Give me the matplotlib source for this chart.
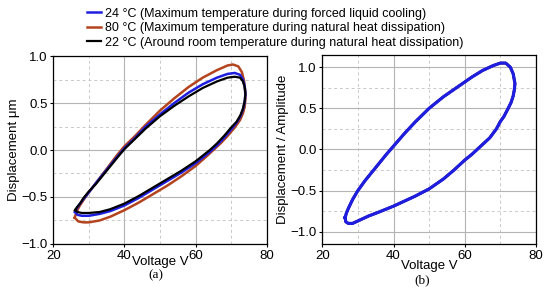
import matplotlib
matplotlib.use("Agg")
import matplotlib.pyplot as plt
from matplotlib.ticker import MultipleLocator

plt.rcParams['font.family'] = ['Liberation Sans', 'DejaVu Sans']

# legend labels and colours
labels = ["24 °C (Maximum temperature during forced liquid cooling)",
          "80 °C (Maximum temperature during natural heat dissipation)",
          "22 °C (Around room temperature during natural heat dissipation)"]
colors = ["#1e1ee0", "#b3441e", "#000000"]

# (a) displacement loops, upper branch (rising) and lower branch (falling)
blue_up_v = [26.1, 26.6, 27.5, 28.5, 30, 32, 35, 38, 40, 43, 46, 50, 54, 58, 62, 66, 69, 71, 72.5, 73.3, 73.8, 74.0]
blue_up_d = [-0.66, -0.62, -0.57, -0.52, -0.45, -0.35, -0.21, -0.07, 0.02, 0.13, 0.25, 0.38, 0.50, 0.61, 0.70, 0.77, 0.81, 0.82, 0.80, 0.75, 0.68, 0.60]
blue_lo_v = [74.0, 73.8, 73.3, 72.6, 71.5, 70, 68, 66, 64, 62, 60, 56, 52, 48, 44, 40, 36, 33, 30, 28, 26.8, 26.1]
blue_lo_d = [0.60, 0.51, 0.43, 0.36, 0.29, 0.22, 0.13, 0.05, -0.02, -0.08, -0.14, -0.24, -0.33, -0.42, -0.51, -0.59, -0.65, -0.68, -0.70, -0.70, -0.69, -0.66]

brown_up_v = [26.0, 26.5, 27.3, 28.5, 30, 32, 35, 38, 40, 43, 46, 50, 54, 58, 62, 66, 69, 70.5, 72, 73.0, 73.6, 73.9, 74.0]
brown_up_d = [-0.72, -0.66, -0.60, -0.53, -0.45, -0.35, -0.20, -0.05, 0.04, 0.15, 0.27, 0.42, 0.55, 0.67, 0.77, 0.85, 0.90, 0.91, 0.89, 0.83, 0.74, 0.64, 0.55]
brown_lo_v = [74.0, 73.8, 73.3, 72.5, 71, 69, 67, 65, 63, 60, 56, 52, 48, 44, 40, 36, 33, 30, 28.5, 27, 26.0]
brown_lo_d = [0.55, 0.46, 0.39, 0.32, 0.24, 0.15, 0.07, 0.0, -0.07, -0.17, -0.28, -0.38, -0.47, -0.56, -0.64, -0.71, -0.75, -0.77, -0.77, -0.76, -0.72]

black_up_v = [26.1, 26.6, 27.5, 28.5, 30, 32, 35, 38, 40, 43, 46, 50, 54, 58, 62, 66, 69, 71, 72.5, 73.3, 73.8, 74.0]
black_up_d = [-0.64, -0.61, -0.57, -0.51, -0.44, -0.36, -0.22, -0.08, 0.01, 0.12, 0.23, 0.36, 0.47, 0.57, 0.66, 0.73, 0.77, 0.78, 0.77, 0.73, 0.67, 0.60]
black_lo_v = [74.0, 73.8, 73.3, 72.6, 71.5, 70, 68, 66, 64, 62, 60, 56, 52, 48, 44, 40, 36, 33, 30, 28, 26.8, 26.1]
black_lo_d = [0.60, 0.52, 0.44, 0.37, 0.30, 0.24, 0.15, 0.07, 0.0, -0.06, -0.12, -0.22, -0.31, -0.40, -0.49, -0.57, -0.63, -0.66, -0.67, -0.67, -0.66, -0.64]

# (b) normalised loop (all three nearly coincide)
norm_up_v = [26.4, 26.8, 27.5, 28.5, 30, 32, 35, 38, 40, 43, 46, 50, 54, 58, 62, 65, 68, 70, 71.5, 72.8, 73.6, 74.1]
norm_up_d = [-0.83, -0.77, -0.70, -0.61, -0.50, -0.38, -0.22, -0.06, 0.04, 0.19, 0.33, 0.50, 0.64, 0.76, 0.88, 0.96, 1.02, 1.05, 1.05, 1.00, 0.92, 0.80]
norm_lo_v = [74.1, 73.9, 73.6, 73.0, 72.2, 71, 70, 68.9, 67, 65, 63.5, 62, 60, 57, 54, 50, 46, 43, 40, 36, 33, 30, 28.5, 27.3, 26.6, 26.4]
norm_lo_d = [0.80, 0.72, 0.65, 0.57, 0.50, 0.40, 0.34, 0.25, 0.14, 0.06, 0.0, -0.06, -0.13, -0.25, -0.36, -0.48, -0.57, -0.63, -0.69, -0.76, -0.81, -0.87, -0.90, -0.90, -0.88, -0.83]

fig = plt.figure(figsize=(5.5, 2.95), dpi=100)
ax1 = fig.add_axes([0.097, 0.173, 0.388, 0.637])
ax2 = fig.add_axes([0.586, 0.173, 0.3885, 0.641])


def style(ax, ylim, xpad):
    ax.set_xlim(20, 80)
    ax.set_ylim(*ylim)
    ax.xaxis.set_major_locator(MultipleLocator(20))
    ax.xaxis.set_minor_locator(MultipleLocator(10))
    ax.yaxis.set_major_locator(MultipleLocator(0.5))
    ax.yaxis.set_minor_locator(MultipleLocator(0.25))
    ax.grid(which='major', color='#b4b4b4', lw=0.8, ls='-')
    ax.grid(which='minor', color='#c8c8c8', lw=0.7, ls=(0, (3, 3)))
    ax.set_axisbelow(True)
    ax.tick_params(which='major', length=2.5, width=0.8, labelsize=9.5, pad=1.5)
    ax.tick_params(which='minor', length=0)
    for s in ax.spines.values():
        s.set_linewidth(0.9)
    ax.set_xlabel("Voltage V", fontsize=9.5, labelpad=xpad)


style(ax1, (-1.0, 1.0), -4)
style(ax2, (-1.15, 1.15), -1)

h_brown, = ax1.plot(brown_up_v + brown_lo_v, brown_up_d + brown_lo_d, color=colors[1], lw=1.8)
h_blue, = ax1.plot(blue_up_v + blue_lo_v, blue_up_d + blue_lo_d, color=colors[0], lw=1.8)
h_black, = ax1.plot(black_up_v + black_lo_v, black_up_d + black_lo_d, color=colors[2], lw=1.6)

ax2.plot(norm_up_v + norm_lo_v, norm_up_d + norm_lo_d, color=colors[2], lw=1.8)
ax2.plot(norm_up_v + norm_lo_v, norm_up_d + norm_lo_d, color=colors[1], lw=1.8)
ax2.plot(norm_up_v + norm_lo_v, norm_up_d + norm_lo_d, color=colors[0], lw=2.3)

ax1.set_ylabel("Displacement μm", fontsize=9.5, labelpad=1)
ax2.set_ylabel("Displacement / Amplitude", fontsize=9.5, labelpad=1)

fig.text(0.283, 0.068, "(a)", family=['Liberation Serif'], fontsize=9.5, ha='center', va='center')
fig.text(0.767, 0.051, "(b)", family=['Liberation Serif'], fontsize=9.5, ha='center', va='center')

fig.legend([h_blue, h_brown, h_black], labels, loc='upper center',
           bbox_to_anchor=(0.5, 1.003), frameon=False, fontsize=9,
           handlelength=1.1, handletextpad=0.3, labelspacing=0.2,
           borderpad=0.2)

fig.savefig("out.png", dpi=100)
